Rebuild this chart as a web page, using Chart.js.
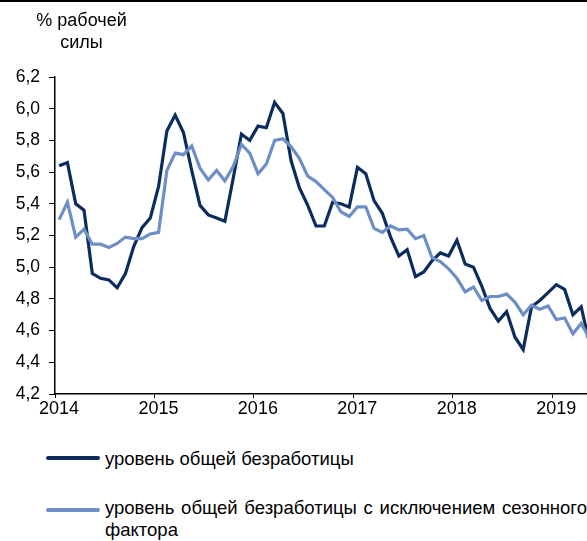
<!DOCTYPE html>
<html>
<head>
<meta charset="utf-8">
<script src="https://cdn.jsdelivr.net/npm/chart.js@4"></script>
<style>
  body { margin: 0; background: #fff; font-family: "Liberation Sans", Arial, sans-serif; }
  #wrap { position: relative; width: 587px; height: 541px; overflow: hidden; }
  #topline { position: absolute; left: 0; top: 0; width: 587px; height: 2px; background: #000; }
  #chart { position: absolute; left: 0; top: 0; }
  #unit { position: absolute; left: 21px; top: 9px; width: 121px; text-align: center; font-size: 18px; line-height: 22px; color: #000; }
  .leg { position: absolute; left: 46px; width: 541px; font-size: 18.5px; line-height: 22px; color: #000; }
  .leg span.sw { position: absolute; left: 0; width: 54px; height: 4px; border-radius: 2px; }
  .leg div { margin-left: 59px; }
</style>
</head>
<body>
<div id="wrap">
  <canvas id="chart" width="587" height="420"></canvas>
  <div id="topline"></div>
  <div id="unit">% рабочей<br>силы</div>
  <div class="leg" style="top:448px"><span class="sw" style="background:#0b2c5c;top:8px"></span><div>уровень общей безработицы</div></div>
  <div class="leg" style="top:497px"><span class="sw" style="background:#6d8fc6;top:11px"></span><div style="text-align:justify">уровень общей безработицы с исключением сезонного фактора</div></div>
</div>
<script>
// monthly, Jan 2014 .. May 2019
const years = ["2014", "2015", "2016", "2017", "2018", "2019"];
const unemployment = [
  5.64, 5.66, 5.40, 5.36, 4.96, 4.93, 4.92, 4.87, 4.96, 5.13, 5.25, 5.31,
  5.51, 5.86, 5.96, 5.85, 5.61, 5.39, 5.33, 5.31, 5.29, 5.56, 5.84, 5.80,
  5.89, 5.88, 6.04, 5.97, 5.67, 5.50, 5.39, 5.26, 5.26, 5.41, 5.40, 5.38,
  5.63, 5.59, 5.42, 5.34, 5.19, 5.07, 5.11, 4.94, 4.97, 5.04, 5.09, 5.07,
  5.17, 5.02, 5.00, 4.88, 4.74, 4.66, 4.72, 4.56, 4.48, 4.75, 4.79, 4.84,
  4.89, 4.86, 4.70, 4.75, 4.52
];
const unemploymentSA = [
  5.30, 5.41, 5.19, 5.24, 5.145, 5.145, 5.125, 5.15, 5.19, 5.18, 5.18, 5.21,
  5.22, 5.61, 5.72, 5.71, 5.765, 5.625, 5.55, 5.61, 5.545, 5.635, 5.775, 5.72,
  5.59, 5.65, 5.80, 5.81, 5.76, 5.685, 5.575, 5.54, 5.49, 5.44, 5.35, 5.32,
  5.38, 5.38, 5.245, 5.22, 5.26, 5.235, 5.24, 5.18, 5.20, 5.06, 5.035, 4.99,
  4.93, 4.845, 4.875, 4.79, 4.815, 4.815, 4.83, 4.78, 4.70, 4.76, 4.735, 4.755,
  4.67, 4.68, 4.58, 4.645, 4.55
];

const pts = arr => arr.map((v, i) => ({ x: i + 0.5, y: v }));

new Chart(document.getElementById("chart"), {
  type: "line",
  data: {
    datasets: [
      {
        label: "уровень общей безработицы с исключением сезонного фактора",
        data: pts(unemploymentSA),
        borderColor: "#6d8fc6",
        borderWidth: 3.2,
        pointRadius: 0,
        tension: 0
      },
      {
        label: "уровень общей безработицы",
        data: pts(unemployment),
        borderColor: "#0b2c5c",
        borderWidth: 3.2,
        pointRadius: 0,
        tension: 0
      }
    ]
  },
  options: {
    responsive: false,
    animation: false,
    devicePixelRatio: 1,
    layout: { padding: { top: 77, right: 0, left: 0, bottom: 0 } },
    plugins: { legend: { display: false }, tooltip: { enabled: false } },
    scales: {
      x: {
        type: "linear",
        min: 0,
        max: 64.2,
        afterBuildTicks: s => { s.ticks = years.map((y, i) => ({ value: i * 12 })); },
        afterFit: s => { s.height = 26; },
        ticks: {
          callback: v => years[v / 12],
          font: { family: "Liberation Sans", size: 18 },
          color: "#000",
          padding: 0,
          labelOffset: 4,
          maxRotation: 0
        },
        grid: { drawOnChartArea: false, tickLength: 4, color: "#000" },
        border: { color: "#000", width: 1.5 }
      },
      y: {
        min: 4.2,
        max: 6.2,
        afterFit: s => { s.width = 55; },
        ticks: {
          stepSize: 0.2,
          callback: v => v.toFixed(1).replace(".", ","),
          font: { family: "Liberation Sans", size: 17.5 },
          color: "#000",
          padding: 9
        },
        grid: { drawOnChartArea: false, tickLength: 6, color: "#000" },
        border: { color: "#000", width: 1.5 }
      }
    }
  }
});
</script>
</body>
</html>
